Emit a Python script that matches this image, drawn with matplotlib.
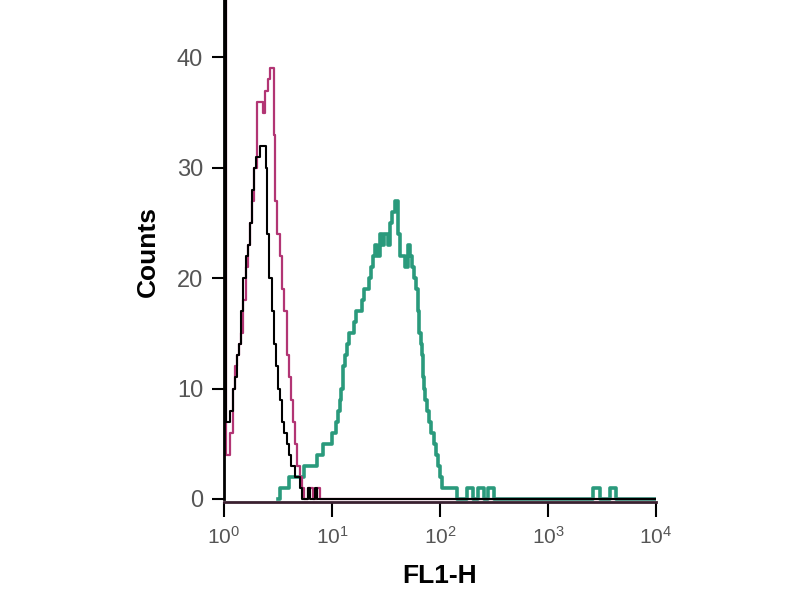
import numpy as np
import matplotlib
matplotlib.use("Agg")
import matplotlib.pyplot as plt

plt.rcParams["font.family"] = ["Liberation Sans", "DejaVu Sans"]

# channel positions in decades (log10 of FL1-H), counts per channel
black_dec = [0.00, 0.02, 0.04, 0.06, 0.08, 0.10, 0.12, 0.14, 0.16, 0.18, 0.20, 0.22, 0.24,
             0.26, 0.28, 0.30, 0.33, 0.36, 0.39, 0.40, 0.42, 0.44, 0.46, 0.48, 0.50, 0.52,
             0.54, 0.56, 0.58, 0.60, 0.62, 0.64, 0.66, 0.68, 0.70, 0.72, 0.78, 0.80, 0.84,
             0.86, 4.00]
black_cnt = [60, 7, 7, 8, 10, 11, 13, 14, 17, 20, 22, 23, 25,
             28, 30, 31, 32, 32, 30, 24, 20, 17, 14, 12, 10, 9,
             7, 6, 5, 4, 3, 3, 2, 2, 1, 0, 1, 0, 1,
             0, 0]

mag_dec = [0.00, 0.02, 0.04, 0.06, 0.08, 0.10, 0.12, 0.14, 0.16, 0.18, 0.20, 0.22, 0.24,
           0.26, 0.28, 0.31, 0.34, 0.36, 0.38, 0.41, 0.43, 0.46, 0.47, 0.49, 0.52, 0.54,
           0.56, 0.58, 0.60, 0.62, 0.64, 0.66, 0.68, 0.70, 0.72, 0.74, 0.78, 0.82, 0.86,
           0.89, 4.00]
mag_cnt = [50, 4, 4, 6, 10, 12, 13, 14, 15, 18, 21, 23, 25,
           27, 30, 36, 36, 35, 37, 38, 39, 33, 27, 24, 22, 19,
           17, 13, 11, 9, 7, 5, 3, 2, 1, 0, 1, 0, 1,
           0, 0]

teal_dec = [0.50, 0.52, 0.60, 0.70, 0.74, 0.82, 0.86, 0.92, 0.96, 1.00, 1.04, 1.06, 1.07,
            1.08, 1.10, 1.12, 1.14, 1.16, 1.18, 1.20, 1.22, 1.26, 1.28, 1.30, 1.32, 1.34,
            1.36, 1.38, 1.40, 1.42, 1.44, 1.46, 1.48, 1.52, 1.54, 1.56, 1.58, 1.61, 1.63,
            1.66, 1.68, 1.70, 1.72, 1.74, 1.76, 1.78, 1.80, 1.81, 1.82, 1.83, 1.84, 1.85,
            1.86, 1.88, 1.90, 1.92, 1.94, 1.96, 1.98, 2.00, 2.02, 2.16,
            2.25, 2.31, 2.35, 2.41, 2.44, 2.50, 3.42, 3.48, 3.57, 3.63, 4.00]
teal_cnt = [0, 1, 2, 2, 3, 3, 4, 5, 5, 6, 7, 8, 9,
            10, 12, 13, 14, 15, 15, 16, 17, 17, 18, 19, 19, 20,
            21, 22, 23, 22, 24, 23, 24, 23, 25, 26, 27, 24, 22,
            22, 21, 23, 22, 21, 20, 19, 17, 15, 14, 13, 11, 10,
            9, 8, 7, 6, 5, 4, 3, 2, 1, 0,
            1, 0, 1, 0, 1, 0, 1, 0, 1, 0, 0]

yticks = [0, 10, 20, 30, 40]
xticks = [1, 10, 100, 1000, 10000]

fig = plt.figure(figsize=(8, 6), dpi=100)
ax = fig.add_axes([0.28, 0.163, 0.54, 0.837])

ax.step(10 ** np.array(teal_dec), teal_cnt, where="post", color="#2a9a7c", lw=2.6)
ax.step(10 ** np.array(mag_dec), mag_cnt, where="post", color="#b23574", lw=1.6)
ax.step(10 ** np.array(black_dec), black_cnt, where="post", color="black", lw=1.5)

ax.set_xscale("log")
ax.set_xlim(1, 10000)
ax.set_ylim(-0.3, 45.2)
ax.set_xticks(xticks)
ax.set_xticklabels([r"$\mathdefault{10^{%d}}$" % np.log10(v) for v in xticks])
ax.xaxis.set_minor_locator(matplotlib.ticker.NullLocator())
ax.set_yticks(yticks)

for s in ["top", "right"]:
    ax.spines[s].set_visible(False)
ax.spines["left"].set_linewidth(2)
ax.spines["bottom"].set_linewidth(2)
ax.spines["bottom"].set_color("#3a2030")
ax.spines["left"].set_bounds(0, 45.2)

ax.tick_params(axis="y", length=9, width=1.5, labelsize=17, labelcolor="#555555", pad=6)
ax.tick_params(axis="x", length=11, width=1.5, labelsize=15, labelcolor="#555555", pad=6)

ax.set_ylabel("Counts", fontsize=19, fontweight="bold", labelpad=12)
ax.set_xlabel("FL1-H", fontsize=19, fontweight="bold", labelpad=12)

fig.savefig("out.png", dpi=100)
